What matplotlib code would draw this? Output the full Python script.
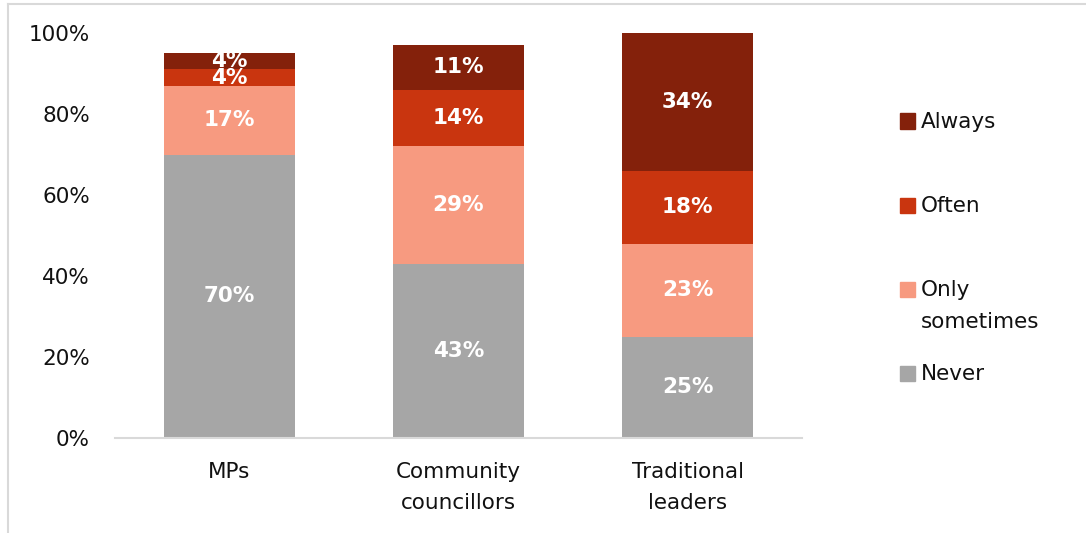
import matplotlib.pyplot as plt
from matplotlib.lines import Line2D
from matplotlib.patches import Rectangle

# Datos del gráfico (porcentajes)
categorias = ['MPs', 'Community\ncouncillors', 'Traditional\nleaders']
series = ['Never', 'Only\nsometimes', 'Often', 'Always']
never = [70, 43, 25]
only_sometimes = [17, 29, 23]
often = [4, 14, 18]
always = [4, 11, 34]
colores = ['#A6A6A6', '#F79A80', '#C9350F', '#84210B']

plt.rcParams['font.family'] = ['DejaVu Sans']
fs = 15.5

W, H = 1086, 533
fig = plt.figure(figsize=(W / 100, H / 100), dpi=100)
ax = fig.add_axes([115 / W, (H - 438) / H, 687 / W, 405 / H])

# Barras apiladas
valores = [never, only_sometimes, often, always]
x = range(len(categorias))
base = [0] * len(categorias)
for nombre, vals, color in zip(series, valores, colores):
    barras = ax.bar(x, vals, bottom=base, width=0.572, color=color, label=nombre)
    ax.bar_label(barras, labels=[f'{v}%' for v in vals], label_type='center',
                 color='white', fontsize=fs, fontweight='bold')
    base = [b + v for b, v in zip(base, vals)]

ax.set_xlim(-0.5, 2.5)
ax.set_ylim(0, 100)
ax.set_yticks([0, 20, 40, 60, 80, 100])
ax.set_yticklabels([f'{t}%' for t in [0, 20, 40, 60, 80, 100]])
ax.set_xticks(list(x))
ax.set_xticklabels(categorias)
for lbl in ax.get_xticklabels():
    lbl.set_linespacing(1.72)
ax.tick_params(axis='both', length=0, labelsize=fs, colors='#111111')
ax.tick_params(axis='x', pad=17)
ax.tick_params(axis='y', pad=18)

for lado in ['top', 'right', 'left']:
    ax.spines[lado].set_visible(False)
ax.spines['bottom'].set_color('#D9D9D9')
ax.spines['bottom'].set_linewidth(1.5)

# Leyenda dibujada a mano (orden inverso)
for i, (nombre, color) in enumerate(zip(series[::-1], colores[::-1])):
    yc = 121 + 84 * i
    fig.patches.append(Rectangle((900 / W, (H - yc - 7.5) / H), 15 / W, 15 / H,
                                 transform=fig.transFigure, color=color))
    fig.text(921 / W, (H - yc + 9) / H, nombre, fontsize=fs, color='#111111',
             va='top', ha='left', linespacing=1.73)

# Marco del área del gráfico
borde = '#D9D9D9'
fig.lines.append(Line2D([7.5 / W, 7.5 / W], [0, (H - 3.5) / H], color=borde,
                        linewidth=1.5, transform=fig.transFigure))
fig.lines.append(Line2D([7.5 / W, 1], [(H - 3.5) / H, (H - 3.5) / H], color=borde,
                        linewidth=1.5, transform=fig.transFigure))

fig.savefig('out.png', dpi=100)
